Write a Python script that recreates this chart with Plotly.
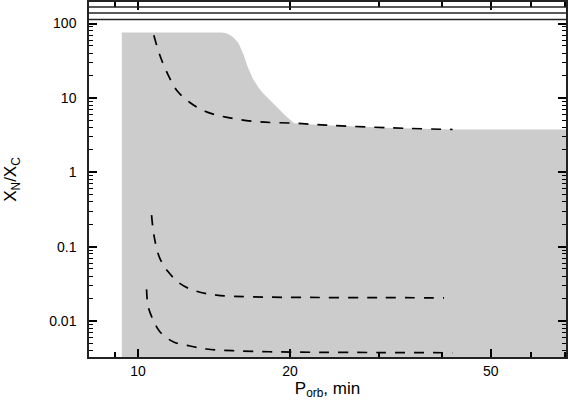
# plot.py
# N/C abundance ratio vs orbital period, with the allowed (grey) region.

import plotly.graph_objects as go

# Grey allowed region boundary (P_orb in min, X_N/X_C)
region_p = [9.29, 9.29, 14.6, 14.9, 15.15, 15.43, 15.8, 16.15, 16.5, 16.9, 17.3, 17.68,
            18.1, 18.5, 19.08, 19.7, 20.4, 23.6, 31.9, 42.0, 90.0, 90.0]
region_ratio = [0.001, 75.7, 75.7, 74.5, 71.0, 66.1, 55.0, 40.0, 26.0, 18.0, 14.0, 11.6,
                9.9, 8.5, 7.0, 5.6, 4.57, 4.30, 3.95, 3.76, 3.75, 0.001]

# Dashed tracks
track_top_p = [10.75, 11.05, 11.48, 11.93, 12.67, 13.67, 15.2, 17.4, 20.4, 23.6, 31.9, 42.0]
track_top_ratio = [69.6, 37.5, 20.2, 12.7, 8.67, 6.49, 5.38, 4.76, 4.57, 4.30, 3.95, 3.76]

track_mid_p = [10.64, 10.77, 11.05, 11.48, 12.1, 12.96, 14.3, 16.9, 21.9, 30.0, 40.4]
track_mid_ratio = [0.265, 0.1355, 0.0694, 0.0458, 0.032, 0.0255, 0.0223, 0.0211, 0.0207,
                   0.0206, 0.0204]

track_low_p = [10.4, 10.48, 10.72, 11.05, 11.74, 12.67, 13.67, 15.4, 18.2, 22.5, 30.0, 42.0]
track_low_ratio = [0.0266, 0.0155, 0.01028, 0.00716, 0.00525, 0.0046, 0.00419, 0.00398,
                   0.00385, 0.00379, 0.00376, 0.00373]

# Horizontal levels at the top of the frame
top_levels = [113, 139, 167]

x_ticks = [10, 20, 50]
x_minor = [9, 30, 40, 60, 70]
y_ticks = [0.01, 0.1, 1, 10, 100]
y_ticktext = ["0.01", "0.1", "1", "10", "100"]
y_minor = [m * 10.0 ** k for k in range(-3, 3) for m in range(2, 10)]

fig = go.Figure()

fig.add_trace(go.Scatter(
    x=region_p, y=region_ratio, mode="lines", fill="toself",
    fillcolor="#cccccc", line=dict(width=0, color="#cccccc"), hoverinfo="skip"))

for xs, ys in [(track_top_p, track_top_ratio), (track_mid_p, track_mid_ratio),
               (track_low_p, track_low_ratio)]:
    fig.add_trace(go.Scatter(
        x=xs, y=ys, mode="lines", line_shape="spline",
        line=dict(color="black", width=1.7, dash="10px,9px")))

for lvl in top_levels:
    fig.add_hline(y=lvl, line=dict(color="#222222", width=1.5))

axis_common = dict(
    showline=True, linecolor="#222222", linewidth=1.5, mirror="ticks",
    ticks="inside", ticklen=8, tickwidth=1.5, tickcolor="black",
    showgrid=False, zeroline=False, automargin=False, layer="above traces",
)

fig.update_xaxes(
    type="log", range=[0.903, 1.848],
    tickmode="array", tickvals=x_ticks, ticktext=[str(v) for v in x_ticks],
    minor=dict(tickmode="array", tickvals=x_minor, ticks="inside", ticklen=5,
               tickcolor="black", tickwidth=1.5, showgrid=False),
    title=dict(text="P<sub>orb</sub>, min", standoff=3),
    **axis_common)

fig.update_yaxes(
    type="log", range=[-2.485, 2.29],
    tickmode="array", tickvals=y_ticks, ticktext=y_ticktext,
    minor=dict(tickmode="array", tickvals=y_minor, ticks="inside", ticklen=4,
               tickcolor="black", tickwidth=1.3, showgrid=False),
    title=dict(text="X<sub>N</sub>/X<sub>C</sub>", standoff=28),
    ticklabelstandoff=8,
    **axis_common)

fig.update_layout(
    width=568, height=410,
    margin=dict(l=89, r=2, t=2, b=53),
    paper_bgcolor="white", plot_bgcolor="white",
    font=dict(family="Liberation Sans, Arial, sans-serif", size=14, color="black"),
    showlegend=False,
)

# drop the default page margin so the figure sits at the window origin
fig.write_html("out.html", config={"displayModeBar": False},
               post_script="document.body.style.margin='0';")
